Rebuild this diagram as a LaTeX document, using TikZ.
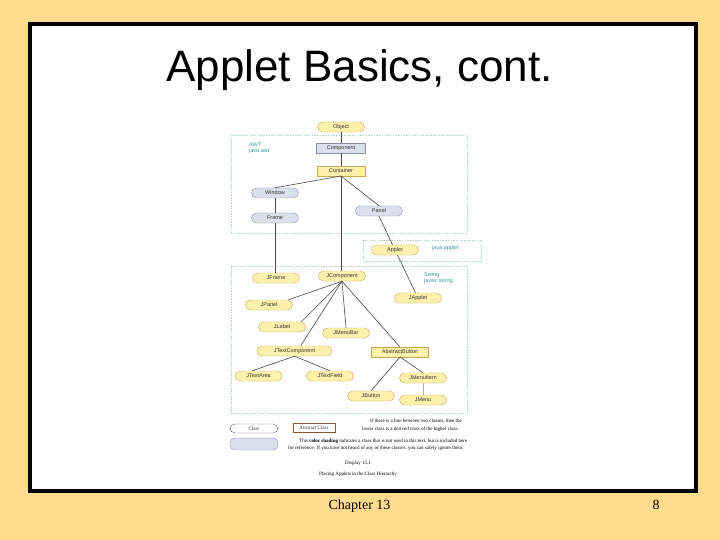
\documentclass[tikz,border=0pt]{standalone}
\usepackage{fontspec}
\setmainfont{Liberation Serif}
\setsansfont{Liberation Sans}
\usetikzlibrary{positioning}

\definecolor{slidebg}{HTML}{FFDB8C}
\definecolor{clsfill}{HTML}{FFF1AC}
\definecolor{clsline}{HTML}{C9A955}
\definecolor{oldfill}{HTML}{DCDFEE}
\definecolor{oldline}{HTML}{8A8EA6}
\definecolor{pkgline}{HTML}{B4D2D2}
\definecolor{pkgtext}{HTML}{3F9A9A}
\definecolor{edgecol}{HTML}{4A4A4A}

\begin{document}
\begin{tikzpicture}[x=1pt, y=-1pt,
        nodefont/.style={font=\sffamily\fontsize{5.5}{6.5}\selectfont, text=black!80},
        cls/.style={nodefont, draw=clsline, fill=clsfill, rounded corners=5pt, minimum width=47pt, minimum height=10pt, inner sep=1pt},
        oldcls/.style={cls, draw=oldline, fill=oldfill},
        abscls/.style={nodefont, draw=clsline, fill=clsfill, minimum width=48pt, minimum height=9.5pt, inner sep=1pt},
        oldabs/.style={abscls, draw=oldline, fill=oldfill},
        pkg/.style={draw=pkgline, dash pattern=on 1.5pt off 1.2pt, line width=0.5pt},
        pkglabel/.style={font=\sffamily\fontsize{5.5}{6.5}\selectfont, text=pkgtext, anchor=west, inner sep=0pt, align=left},
        edge/.style={draw=edgecol, line width=0.6pt},
        note/.style={font=\fontsize{5}{6}\selectfont, anchor=west, inner sep=0pt}
    ]
        % slide
        \fill[slidebg] (0,0) rectangle (720,540);
        \draw[line width=4pt, fill=white] (30,24) rectangle (696,491);
        \node[font=\sffamily\fontsize{44}{48}\selectfont, anchor=base] (title) at (359.5,82) {Applet Basics, cont.};
        \node[font=\fontsize{14}{16}\selectfont, anchor=base] (chapter) at (359.5,509) {Chapter 13};
        \node[font=\fontsize{14}{16}\selectfont, anchor=base] (pagenum) at (656,509) {8};

        % packages
        \draw[pkg] (231,135) rectangle (467,233);
        \draw[pkg] (363,240) rectangle (481,261);
        \draw[pkg] (231,266) rectangle (467,413);
        \node[pkglabel] (awt) at (249,148) {AWT\\java.awt};
        \node[pkglabel] (applib) at (432,248) {java.applet};
        \node[pkglabel] (swing) at (424,278) {Swing\\javax.swing};

        % classes
        \node[cls] (object) at (341,127) {Object};
        \node[oldabs, minimum width=49pt] (component) at (341,148) {Component};
        \node[abscls] (container) at (341,171) {Container};
        \node[oldcls] (window) at (275,193) {Window};
        \node[oldcls] (frame) at (275,218) {Frame};
        \node[oldcls] (panel) at (379,211) {Panel};
        \node[cls] (applet) at (395,250) {Applet};
        \node[cls] (jframe) at (276,278) {JFrame};
        \node[cls] (jcomp) at (342,276) {JComponent};
        \node[cls] (japplet) at (418,298) {JApplet};
        \node[cls] (jpanel) at (269,305) {JPanel};
        \node[cls] (jlabel) at (282,327) {JLabel};
        \node[cls] (jmenubar) at (346,333) {JMenuBar};
        \node[cls, minimum width=75pt] (jtextcomp) at (294.5,351) {JTextComponent};
        \node[abscls, minimum width=57pt] (absbutton) at (400,352) {AbstractButton};
        \node[cls] (jtextarea) at (258.5,376) {JTextArea};
        \node[cls] (jtextfield) at (330,376) {JTextField};
        \node[cls] (jmenuitem) at (423,378) {JMenuItem};
        \node[cls] (jbutton) at (371,396) {JButton};
        \node[cls] (jmenu) at (423,400) {JMenu};

        % inheritance lines
        \draw[edge] (object) -- (component);
        \draw[edge] (component) -- (container);
        \draw[edge] (container.south) -- (window.north);
        \draw[edge] (container.south) -- (panel.north);
        \draw[edge] (container.south) -- (container.south |- jcomp.north);
        \draw[edge] (window) -- (frame);
        \draw[edge] (frame.south) -- (frame.south |- jframe.north);
        \draw[edge] (panel.south) -- (applet);
        \draw[edge] (applet) -- (japplet);
        \draw[edge] (jcomp.south) -- (jpanel.15);
        \draw[edge] (jcomp.south) -- (jlabel.15);
        \draw[edge] (jcomp.south) -- (jtextcomp.40);
        \draw[edge] (jcomp.south) -- (jmenubar.north);
        \draw[edge] (jcomp.south) -- (absbutton.north);
        \draw[edge] (jtextcomp.south) -- (jtextarea.140);
        \draw[edge] (jtextcomp.south) -- (jtextfield.north);
        \draw[edge] (absbutton.south) -- (jbutton.north);
        \draw[edge] (absbutton.south) -- (jmenuitem.north);
        \draw[draw=black!30, line width=0.6pt] (jmenuitem) -- (jmenu);

        % legend
        \node[cls, fill=white, draw=black!60, minimum width=48pt, minimum height=9pt, font=\fontsize{5}{6}\selectfont] (keyclass) at (254,428.5) {Class};
        \node[abscls, fill=white, draw=brown!70!black, minimum width=42pt, minimum height=9pt, font=\fontsize{5}{6}\selectfont] (keyabs) at (314,427.5) {Abstract Class};
        \node[oldcls, minimum width=48pt, minimum height=12pt] (keyold) at (254,444) {};
        \node[note] (note1) at (370,421) {If there is a line between two classes, then the};
        \node[note] (note2) at (362,429) {lower class is a derived class of the higher class.};
        \node[note] (note3) at (299,441) {This \textbf{color shading} indicates a class that is not used in this text, but is included here};
        \node[note] (note4) at (288,448) {for reference. If you have not heard of any of these classes, you can safely ignore them.};
        \node[font=\fontsize{5}{6}\selectfont] (display) at (358,463) {Display 13.1};
        \node[font=\fontsize{5}{6}\selectfont] (caption) at (358,474) {Placing Applets in the Class Hierarchy};
\end{tikzpicture}
\end{document}
